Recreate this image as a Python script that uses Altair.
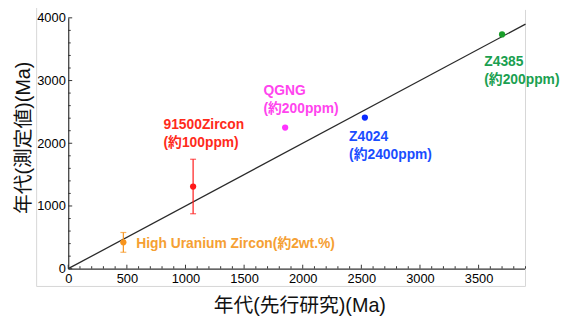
import altair as alt
import pandas as pd

# ---- data ----
names = ["High Uranium Zircon", "91500Zircon", "QGNG", "Z4024", "Z4385"]
prior_age = [470, 1065, 1850, 2530, 3700]          # 年代(先行研究)
measured_age = [420, 1310, 2250, 2410, 3735]       # 年代(測定値)
err_low = [262, 876, 2250, 2410, 3735]
err_high = [577, 1745, 2250, 2410, 3735]
labels = ["High Uranium Zircon(約2wt.%)", "91500Zircon\n(約100ppm)",
          "QGNG\n(約200ppm)", "Z4024\n(約2400ppm)", "Z4385\n(約200ppm)"]
point_colors = ["#f7941d", "#ff1a1a", "#ff33ff", "#0a2bff", "#1a9e2a"]
label_colors = ["#f5a033", "#ff2a1a", "#ff44ee", "#1a4dff", "#1aa050"]
label_offsets = [(13, 2), (-30, -62), (-22, -37), (-16, 20), (-18, 28)]
one_to_one = [0, 3900]
x_major = [0, 500, 1000, 1500, 2000, 2500, 3000, 3500]
y_major = [0, 1000, 2000, 3000, 4000]
x_minor = [v for v in range(0, 3901, 100) if v % 500]
y_minor = [v for v in range(0, 4001, 200) if v % 1000]

W, H = 463, 254
LATIN = "Liberation Sans"
TITLE_FONT = "Liberation Sans, Noto Sans CJK JP"
LABEL_FONT = "Liberation Sans, Noto Sans CJK JP"

df = pd.DataFrame({"name": names, "x": prior_age, "y": measured_age,
                   "lo": err_low, "hi": err_high, "label": labels})
err_df = df.iloc[:2]
line_df = pd.DataFrame({"x": one_to_one, "y": one_to_one})

xs = alt.Scale(domain=[0, 3900], nice=False, zero=False)
ys = alt.Scale(domain=[0, 4000], nice=False, zero=False)
xaxis = alt.Axis(title="年代(先行研究)(Ma)", values=x_major, format="d", ticks=False, grid=False,
                 domainColor="#333333", domainWidth=1.2, labelFont=LATIN, labelFontSize=13,
                 labelColor="#000000", labelPadding=4, labelFlush=False, labelOverlap=False,
                 titleFont=TITLE_FONT, titleFontSize=20, titleFontWeight="normal",
                 titleColor="#111111", titleX=234, titleY=37, titleAlign="center",
                 titleBaseline="middle")
yaxis = alt.Axis(title="年代(測定値)(Ma)", values=y_major, format="d", ticks=False, grid=False,
                 domainColor="#333333", domainWidth=1.2, labelFont=LATIN, labelFontSize=13,
                 labelColor="#000000", labelPadding=3, labelFlush=False, labelOverlap=False,
                 titleFont=TITLE_FONT, titleFontSize=20, titleFontWeight="normal",
                 titleColor="#111111", titleX=-45, titleY=121, titleAngle=270,
                 titleAlign="center", titleBaseline="middle")

color = alt.Color("name:N", scale=alt.Scale(domain=names, range=point_colors), legend=None)

ref_line = alt.Chart(line_df).mark_line(color="#2a2a2a", strokeWidth=1.3).encode(
    x=alt.X("x:Q", scale=xs, axis=xaxis), y=alt.Y("y:Q", scale=ys, axis=yaxis))

err_rule = alt.Chart(err_df).mark_rule(strokeWidth=1.2).encode(
    x=alt.X("x:Q", scale=xs, axis=xaxis), y=alt.Y("lo:Q", scale=ys, axis=yaxis),
    y2="hi:Q", color=color)
cap_lo = alt.Chart(err_df).mark_tick(orient="horizontal", size=6, thickness=1.2).encode(
    x=alt.X("x:Q", scale=xs, axis=xaxis), y=alt.Y("lo:Q", scale=ys, axis=yaxis), color=color)
cap_hi = alt.Chart(err_df).mark_tick(orient="horizontal", size=6, thickness=1.2).encode(
    x=alt.X("x:Q", scale=xs, axis=xaxis), y=alt.Y("hi:Q", scale=ys, axis=yaxis), color=color)

points = alt.Chart(df).mark_circle(size=40, opacity=1).encode(
    x=alt.X("x:Q", scale=xs, axis=xaxis), y=alt.Y("y:Q", scale=ys, axis=yaxis), color=color)

texts = []
for i in range(len(names)):
    dx, dy = label_offsets[i]
    texts.append(
        alt.Chart(df.iloc[[i]]).mark_text(
            align="left", baseline="middle", dx=dx, dy=dy, lineBreak="\n", lineHeight=18,
            font=LABEL_FONT, fontSize=14, fontWeight="bold", color=label_colors[i]
        ).encode(x=alt.X("x:Q", scale=xs, axis=xaxis), y=alt.Y("y:Q", scale=ys, axis=yaxis),
                 text="label:N")
    )

def xticks(vals, length):
    return alt.Chart(pd.DataFrame({"v": vals})).mark_rule(color="#333333", strokeWidth=1).encode(
        x=alt.X("v:Q", scale=xs, axis=xaxis), y=alt.value(H), y2=alt.value(H - length))

def yticks(vals, length):
    return alt.Chart(pd.DataFrame({"v": vals})).mark_rule(color="#333333", strokeWidth=1).encode(
        y=alt.Y("v:Q", scale=ys, axis=yaxis), x=alt.value(0), x2=alt.value(length))

frame_df = pd.DataFrame({"k": [0]})
frame_left = alt.Chart(frame_df).mark_rule(color="#d6d6d6", strokeWidth=1).encode(
    x=alt.value(-32), y=alt.value(-16), y2=alt.value(272))
frame_bottom = alt.Chart(frame_df).mark_rule(color="#d6d6d6", strokeWidth=1).encode(
    x=alt.value(-32), x2=alt.value(W), y=alt.value(272))
frame_right = alt.Chart(frame_df).mark_rule(color="#d6d6d6", strokeWidth=1).encode(
    x=alt.value(W), y=alt.value(-8), y2=alt.value(272))

chart = alt.layer(
    frame_left, frame_bottom, frame_right,
    ref_line,
    xticks(x_major, 4), xticks(x_minor, 2.5), yticks(y_major, 4), yticks(y_minor, 2.5),
    err_rule, cap_lo, cap_hi, points, *texts
).properties(
    width=W, height=H,
    autosize=alt.AutoSizeParams(type="none"),
    padding={"left": 61, "top": 8, "right": 40, "bottom": 50},
    background="white",
).configure_view(stroke=None)

chart.save("out.html", embed_options={"renderer": "svg", "actions": False})
